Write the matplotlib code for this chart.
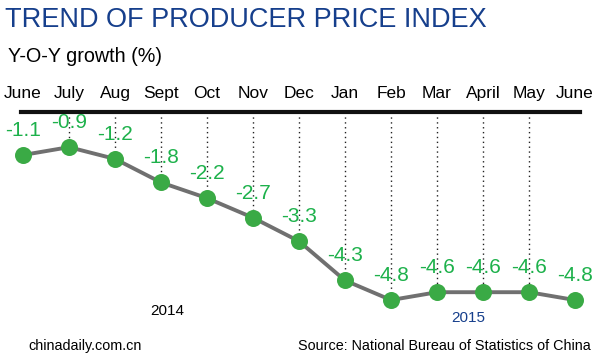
import matplotlib.pyplot as plt

plt.rcParams['font.family'] = ['Liberation Sans', 'DejaVu Sans']

months = ['June', 'July', 'Aug', 'Sept', 'Oct', 'Nov', 'Dec', 'Jan', 'Feb', 'Mar', 'April', 'May', 'June']
ppi = [-1.1, -0.9, -1.2, -1.8, -2.2, -2.7, -3.3, -4.3, -4.8, -4.6, -4.6, -4.6, -4.8]
labels = ['-1.1', '-0.9', '-1.2', '-1.8', '-2.2', '-2.7', '-3.3', '-4.3', '-4.8', '-4.6', '-4.6', '-4.6', '-4.8']

GREEN = '#3aaa45'
LABEL_GREEN = '#1db14b'
BLUE = '#163f8c'

fig = plt.figure(figsize=(6, 3.59), dpi=100)
ax = fig.add_axes([0, 0, 1, 1])
ax.set_xlim(-0.5, 12.543)
ax.set_ylim(-6.304, 2.854)
ax.axis('off')

x = list(range(len(months)))

# zero line
ax.axhline(0, xmin=0.035, xmax=0.966, color='#111111', lw=3, zorder=2)

# dotted guides from zero line to the points
for i in x[1:-1]:
    ax.plot([i, i], [0, ppi[i]], color='#222222', lw=1, ls=(0, (1, 2.5)), zorder=1)

ax.plot(x, ppi, color='#707070', lw=2.8, zorder=3)
ax.scatter(x, ppi, s=150, color=GREEN, zorder=4, linewidths=0)

for i in x:
    ax.text(i, ppi[i] + 0.63, labels[i], ha='center', va='center',
            fontsize=15, color=LABEL_GREEN, zorder=5)
    ax.text(i, 0.46, months[i], ha='center', va='center', fontsize=12.5, color='black')

fig.text(0.008, 0.945, 'TREND OF PRODUCER PRICE INDEX', fontsize=19.5, color=BLUE,
         ha='left', va='center')
fig.text(0.013, 0.842, 'Y-O-Y growth (%)', fontsize=14.2, color='black',
         ha='left', va='center')
fig.text(0.278, 0.133, '2014', fontsize=11, color='black', ha='center', va='center')
fig.text(0.78, 0.113, '2015', fontsize=11, color=BLUE, ha='center', va='center')
fig.text(0.047, 0.037, 'chinadaily.com.cn', fontsize=10.4, color='black', ha='left', va='center')
fig.text(0.985, 0.037, 'Source: National Bureau of Statistics of China', fontsize=10.4,
         color='black', ha='right', va='center')

fig.savefig('out.png', dpi=100)
